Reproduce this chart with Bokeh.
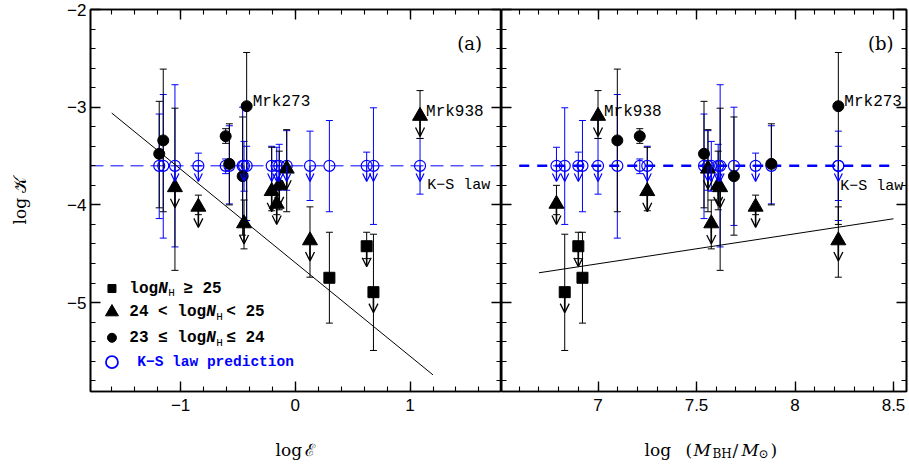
import numpy as np
from bokeh.plotting import figure
from bokeh.models import (ColumnDataSource, Whisker, TeeHead, Arrow, OpenHead, Label,
                          Span, FixedTicker, LinearAxis, Range1d)
from bokeh.layouts import row, column
from bokeh.embed import file_html
from bokeh.resources import INLINE

# ---------------- data ----------------
NAMES    = ["Mrk273", "Mrk938", "C1", "C2", "C3", "C4", "C5", "T1", "T2", "T3",
            "T4", "T5", "T6", "T7", "T8", "S1", "S2", "S3"]
NH_CLASS = ["cir", "tri", "cir", "cir", "cir", "cir", "cir", "tri", "tri", "tri",
            "tri", "tri", "tri", "tri", "tri", "sq", "sq", "sq"]
LOG_E    = [-0.424, 1.087, -1.151, -1.186, -0.607, -0.575, -0.459, -1.049, -0.206, -0.845,
            -0.162, -0.447, -0.140, -0.075, 0.128, 0.297, 0.622, 0.681]
LOG_M    = [8.22, 7.00, 7.098, 7.538, 7.212, 7.88, 7.69, 7.62, 7.25, 7.80,
            6.789, 7.575, 7.61, 7.558, 8.22, 6.921, 6.90, 6.831]
LOG_K    = [-2.99, -3.09, -3.34, -3.477, -3.297, -3.58, -3.706, -3.82, -3.86, -4.02,
            -3.99, -4.19, -3.80, -3.63, -4.364, -4.746, -4.423, -4.893]
K_LO     = [-4.20, -3.32, -4.07, -4.03, -3.37, -4.00, -4.31, -4.67, -4.06, -4.10,
            -4.10, -4.45, -4.05, -4.07, -4.74, -5.21, -4.55, -5.49]
K_HI     = [-2.44, -2.83, -2.61, -2.94, -3.22, -3.17, -3.10, -3.01, -3.41, -3.90,
            -3.80, -3.95, -3.45, -3.23, -4.02, -4.28, -4.28, -4.30]
K_UL     = [0, 1, 0, 0, 0, 0, 0, 1, 1, 1, 1, 1, 1, 1, 1, 0, 1, 1]
KS_LOGK  = -3.6
KS_LO    = [-4.16, -3.89, -4.34, -4.14, -3.68, -3.99, -4.21, -4.43, -3.85, -3.60,
            -3.60, -3.86, -3.85, -3.85, -3.955, -4.07, -3.60, -4.20]
KS_HI    = [-3.40, -3.32, -2.87, -3.07, -3.53, -3.19, -3.00, -2.77, -3.40, -3.47,
            -3.41, -3.35, -3.38, -3.24, -3.245, -3.136, -3.46, -3.006]
KS_UL    = [0, 1, 0, 0, 0, 0, 0, 1, 1, 1, 1, 1, 1, 1, 1, 0, 1, 1]

FIT_A_X = [-1.60, 1.20]
FIT_A_Y = [-3.06, -5.74]
FIT_B_X = [6.70, 8.50]
FIT_B_Y = [-4.695, -4.142]
KS_LINE_B_X = [6.60, 8.50]

Y_TICKS = [-5, -4, -3, -2]
XA_TICKS = [-1, 0, 1]
XB_TICKS = [7, 7.5, 8, 8.5]
Y_LABELS = {-5: "\u22125", -4: "\u22124", -3: "\u22123", -2: "\u22122"}
XA_LABELS = {-1: "\u22121", 0: "0", 1: "1"}
XB_LABELS = {7: "7", 7.5: "7.5", 8: "8", 8.5: "8.5"}

# ---------------- style ----------------
BLUE = "#0000ff"
TICK_FONT = "Liberation Sans"
SERIF = "DejaVu Serif"
MONO = "Liberation Mono"
Y_RANGE = (-5.91, -2.0)
XA_RANGE = (-1.785, 1.797)
XB_RANGE = (6.51, 8.566)
ARROW_BLACK = 0.21
ARROW_BLUE = 0.16

N = len(NAMES)
y_minor = [round(v, 2) for v in np.arange(-5.8, -1.99, 0.2)]
xa_minor = [round(v, 2) for v in np.arange(-1.6, 1.61, 0.2)]
xb_minor = [round(v, 2) for v in np.arange(6.6, 8.56, 0.1)]


def style_axis(ax, ticks, minor, overrides=None):
    ax.ticker = FixedTicker(ticks=ticks, minor_ticks=minor)
    ax.axis_line_color = "black"
    ax.axis_line_width = 1.6
    ax.major_tick_in = 10
    ax.major_tick_out = 0
    ax.minor_tick_in = 5
    ax.minor_tick_out = 0
    ax.major_tick_line_color = "black"
    ax.minor_tick_line_color = "black"
    ax.major_tick_line_width = 1.4
    ax.minor_tick_line_width = 1.1
    if overrides is None:
        ax.major_label_overrides = {t: "" for t in ticks}
        ax.major_label_text_font_size = "1px"
        ax.major_label_standoff = 0
    else:
        ax.major_label_overrides = overrides
        ax.major_label_text_font = TICK_FONT
        ax.major_label_text_font_size = "17px"
        ax.major_label_text_color = "black"
        ax.major_label_standoff = 7


def new_panel(xr, frame_w, border_left, border_right):
    p = figure(x_range=Range1d(*xr), y_range=Range1d(*Y_RANGE),
               frame_width=frame_w, frame_height=382,
               min_border_left=border_left, min_border_right=border_right,
               min_border_top=9, min_border_bottom=32,
               output_backend="svg", toolbar_location=None)
    p.grid.visible = False
    p.outline_line_color = "black"
    p.outline_line_width = 1.6
    p.add_layout(LinearAxis(), "above")
    p.add_layout(LinearAxis(), "right")
    return p


def draw_data(p, xs):
    src = ColumnDataSource(dict(x=xs, k=LOG_K, klo=K_LO, khi=K_HI,
                                kslo=KS_LO, kshi=KS_HI, ks=[KS_LOGK] * N))
    p.add_layout(Whisker(source=src, base="x", lower="kslo", upper="kshi",
                         line_color=BLUE, line_width=1,
                         upper_head=TeeHead(size=7, line_color=BLUE, line_width=1),
                         lower_head=TeeHead(size=7, line_color=BLUE, line_width=1)))
    p.add_layout(Whisker(source=src, base="x", lower="klo", upper="khi",
                         line_color="black", line_width=1,
                         upper_head=TeeHead(size=7, line_color="black", line_width=1),
                         lower_head=TeeHead(size=7, line_color="black", line_width=1)))
    p.scatter(x="x", y="ks", source=src, marker="circle", size=11,
              fill_color=None, line_color=BLUE, line_width=1.2)
    for cls, marker, size in [("sq", "square", 11), ("tri", "triangle", 15), ("cir", "circle", 11)]:
        idx = [i for i in range(N) if NH_CLASS[i] == cls]
        p.scatter(x=[xs[i] for i in idx], y=[LOG_K[i] for i in idx],
                  marker=marker, size=size, color="black")
    ib = [i for i in range(N) if K_UL[i]]
    asrc = ColumnDataSource(dict(x=[xs[i] for i in ib], y0=[LOG_K[i] for i in ib],
                                 y1=[LOG_K[i] - ARROW_BLACK for i in ib]))
    p.add_layout(Arrow(source=asrc, x_start="x", y_start="y0", x_end="x", y_end="y1",
                       line_color="black", line_width=1.6,
                       end=OpenHead(size=9, line_color="black", line_width=1.3)))
    iu = [i for i in range(N) if KS_UL[i]]
    bsrc = ColumnDataSource(dict(x=[xs[i] for i in iu], y0=[KS_LOGK] * len(iu),
                                 y1=[KS_LOGK - ARROW_BLUE] * len(iu)))
    p.add_layout(Arrow(source=bsrc, x_start="x", y_start="y0", x_end="x", y_end="y1",
                       line_color=BLUE, line_width=1.2,
                       end=OpenHead(size=8, line_color=BLUE, line_width=1.2)))


def lab(p, x, y, text, dx=0, font=MONO, size="16px", style="normal", color="black",
        align="left", baseline="middle", dy=0):
    p.add_layout(Label(x=x, y=y, x_offset=dx, y_offset=dy, text=text, text_font=font,
                       text_font_size=size, text_font_style=style, text_color=color,
                       text_align=align, text_baseline=baseline))


# ---------------- panel (a) ----------------
p1 = new_panel(XA_RANGE, 411, 90, 0)
style_axis(p1.below[0], XA_TICKS, xa_minor, XA_LABELS)
style_axis(p1.above[0], XA_TICKS, xa_minor)
style_axis(p1.left[0], Y_TICKS, y_minor, Y_LABELS)
style_axis(p1.right[0], Y_TICKS, y_minor)
p1.left[0].major_label_standoff = 4
p1.left[0].axis_label = "log \U0001D4A6"
p1.left[0].axis_label_text_font = SERIF
p1.left[0].axis_label_text_font_size = "17px"
p1.left[0].axis_label_text_font_style = "normal"
p1.left[0].axis_label_text_color = "black"
p1.left[0].axis_label_standoff = 34

p1.add_layout(Span(location=KS_LOGK, dimension="width", line_color=BLUE,
                   line_width=1, line_dash="13 7", level="underlay"))
p1.line(FIT_A_X, FIT_A_Y, line_color="black", line_width=1)
draw_data(p1, LOG_E)

# ---------------- panel (b) ----------------
p2 = new_panel(XB_RANGE, 405, 0, 2)
style_axis(p2.below[0], XB_TICKS, xb_minor, XB_LABELS)
style_axis(p2.above[0], XB_TICKS, xb_minor)
style_axis(p2.left[0], Y_TICKS, y_minor)
style_axis(p2.right[0], Y_TICKS, y_minor)

p2.line(KS_LINE_B_X, [KS_LOGK, KS_LOGK], line_color=BLUE, line_width=2.5, line_dash="10 8")
p2.line(FIT_B_X, FIT_B_Y, line_color="black", line_width=1)
draw_data(p2, LOG_M)

# ---------------- annotations ----------------
for p, xs in [(p1, LOG_E), (p2, LOG_M)]:
    for name in ["Mrk273", "Mrk938"]:
        i = NAMES.index(name)
        lab(p, xs[i], LOG_K[i], name, dx=6, dy=4)

lab(p1, 1.15, -3.80, "K\u2212S law", size="15px")
lab(p2, 8.23, -3.81, "K\u2212S law", size="15px")
lab(p1, 1.52, -2.35, "(a)", font=SERIF, size="18px", align="center")
lab(p2, 8.435, -2.35, "(b)", font=SERIF, size="18px", align="center")

# ---------------- legend (panel a) ----------------
LX = -1.598
TX = -1.447
rows_y = [-4.856, -5.097, -5.36, -5.61]
p1.scatter([LX], [rows_y[0]], marker="square", size=8, color="black")
p1.scatter([LX], [rows_y[1]], marker="triangle", size=13, color="black")
p1.scatter([LX], [rows_y[2]], marker="circle", size=9, color="black")
p1.scatter([LX], [rows_y[3]], marker="circle", size=12, fill_color=None,
           line_color=BLUE, line_width=1.8)

lab(p1, TX, rows_y[0], "log", style="bold")
lab(p1, TX, rows_y[0], "N", dx=29, style="bold italic")
lab(p1, TX, rows_y[0] - 0.05, "H", dx=39, size="11px")
lab(p1, TX, rows_y[0], "\u2265 25", dx=54, style="bold")

lab(p1, TX, rows_y[1], "24 < log", style="bold")
lab(p1, TX, rows_y[1], "N", dx=77, style="bold italic")
lab(p1, TX, rows_y[1] - 0.05, "H", dx=87, size="11px")
lab(p1, TX, rows_y[1], "< 25", dx=97, style="bold")

lab(p1, TX, rows_y[2], "23 \u2264 log", style="bold")
lab(p1, TX, rows_y[2], "N", dx=77, style="bold italic")
lab(p1, TX, rows_y[2] - 0.05, "H", dx=87, size="11px")
lab(p1, TX, rows_y[2], "\u2264 24", dx=97, style="bold")

lab(p1, TX, rows_y[3], "K\u2212S law prediction", dx=8, size="14.5px", style="bold", color=BLUE)

# ---------------- x-axis titles strip (pixel coordinates) ----------------
p3 = figure(width=909, height=42, x_range=Range1d(0, 909), y_range=Range1d(0, 42),
            min_border=0, output_backend="svg", toolbar_location=None)
p3.axis.visible = False
p3.grid.visible = False
p3.outline_line_color = None
BASE = 16
lab(p3, 295, BASE, "log\u2009\u2130", font=SERIF, size="17px", align="center", baseline="alphabetic")
for txt, x0, sub, ital in [("log", 644, False, False), ("(", 685, False, False),
                           ("M", 693, False, True), ("BH", 712, True, False),
                           ("/", 732, False, False), ("M", 741, False, True),
                           ("\u2299", 758, True, False), (")", 770, False, False)]:
    lab(p3, x0, BASE - 4 if sub else BASE, txt, font=SERIF,
        size="12px" if sub else "17px", style="italic" if ital else "normal",
        baseline="alphabetic")

layout = column(row(p1, p2), p3)
open("out.html", "w").write(file_html(layout, INLINE))
